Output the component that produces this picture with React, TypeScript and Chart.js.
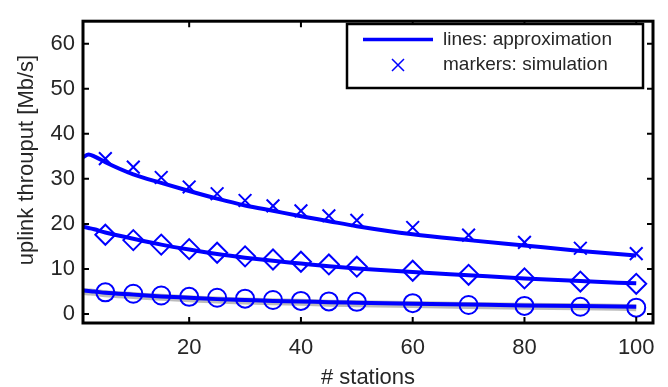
import React, { useEffect, useRef } from "react";
import { Chart, registerables } from "chart.js";

Chart.register(...registerables);

// ---- data ----
const approxStations = [1, 2, 3, 5, 10, 15, 20, 25, 30, 35, 40, 45, 50, 60, 70, 80, 90, 100];
const approxHigh = [34.8, 35.4, 35.0, 33.7, 31.0, 29.1, 27.3, 25.6, 24.1, 22.9, 21.7, 20.6, 19.5, 17.7, 16.4, 15.2, 14.0, 13.0];
const approxMid = [19.4, 19.1, 18.8, 18.1, 16.7, 15.4, 14.3, 13.3, 12.5, 11.8, 11.2, 10.6, 10.1, 9.3, 8.6, 7.9, 7.3, 6.8];
const approxLow = [5.2, 5.1, 5.0, 4.7, 4.3, 3.9, 3.6, 3.3, 3.1, 2.9, 2.8, 2.6, 2.5, 2.3, 2.1, 1.9, 1.8, 1.6];
const approxLowBand = [5.0, 4.9, 4.8, 4.5, 4.1, 3.7, 3.4, 3.1, 2.9, 2.7, 2.6, 2.4, 2.3, 2.1, 1.9, 1.7, 1.6, 1.4];

const simStations = [5, 10, 15, 20, 25, 30, 35, 40, 45, 50, 60, 70, 80, 90, 100];
const simHigh = [34.5, 32.6, 30.3, 28.2, 26.7, 25.2, 24.0, 22.9, 21.8, 20.8, 19.2, 17.5, 15.9, 14.6, 13.4];
const simMid = [17.6, 16.4, 15.4, 14.4, 13.6, 12.8, 12.1, 11.6, 11.0, 10.5, 9.6, 8.7, 7.9, 7.2, 6.7];
const simLow = [4.8, 4.5, 4.1, 3.8, 3.6, 3.4, 3.1, 2.9, 2.8, 2.7, 2.4, 2.0, 1.8, 1.6, 1.4];

const xTicks = [20, 40, 60, 80, 100];
const yTicks = [0, 10, 20, 30, 40, 50, 60];

const xTitle = "# stations";
const yTitle = "uplink throuput [Mb/s]";
const legendLine = "lines: approximation";
const legendMarker = "markers: simulation";

const FONT = '"Liberation Sans", Arial, Helvetica, sans-serif';
const TEXT = "#262626";
const BLUE = "#0000ff";

const pts = (xs: number[], ys: number[]) => xs.map((x, i) => ({ x, y: ys[i] }));

const framePlugin = {
  id: "frameAndDecor",
  afterDraw(chart: any) {
    const { ctx, chartArea: a, scales } = chart;
    const xs = scales.x;
    const ys = scales.y;
    ctx.save();
    // frame
    ctx.strokeStyle = "#000";
    ctx.lineWidth = 3;
    ctx.strokeRect(a.left, a.top, a.right - a.left, a.bottom - a.top);
    // inward ticks
    ctx.lineWidth = 2;
    const tl = 6;
    ctx.beginPath();
    xTicks.forEach((v) => {
      const px = xs.getPixelForValue(v);
      ctx.moveTo(px, a.bottom);
      ctx.lineTo(px, a.bottom - tl);
      ctx.moveTo(px, a.top);
      ctx.lineTo(px, a.top + tl);
    });
    yTicks.forEach((v) => {
      const py = ys.getPixelForValue(v);
      ctx.moveTo(a.left, py);
      ctx.lineTo(a.left + tl, py);
      ctx.moveTo(a.right, py);
      ctx.lineTo(a.right - tl, py);
    });
    ctx.stroke();

    // axis titles
    ctx.fillStyle = TEXT;
    ctx.font = `22px ${FONT}`;
    ctx.textAlign = "center";
    ctx.textBaseline = "middle";
    ctx.fillText(xTitle, (a.left + a.right) / 2, 378);
    ctx.save();
    ctx.translate(27, 160);
    ctx.rotate(-Math.PI / 2);
    ctx.fillText(yTitle, 0, 0);
    ctx.restore();

    // legend
    const lx = 347, ly = 24, lw = 296, lh = 64;
    ctx.fillStyle = "#fff";
    ctx.fillRect(lx, ly, lw, lh);
    ctx.strokeStyle = "#000";
    ctx.lineWidth = 2.5;
    ctx.strokeRect(lx, ly, lw, lh);
    ctx.strokeStyle = BLUE;
    ctx.lineWidth = 3.5;
    ctx.beginPath();
    ctx.moveTo(363, 39.5);
    ctx.lineTo(433, 39.5);
    ctx.stroke();
    ctx.lineWidth = 1.5;
    ctx.beginPath();
    ctx.moveTo(392, 59);
    ctx.lineTo(404, 71);
    ctx.moveTo(404, 59);
    ctx.lineTo(392, 71);
    ctx.stroke();
    ctx.fillStyle = TEXT;
    ctx.font = `19px ${FONT}`;
    ctx.textAlign = "left";
    ctx.textBaseline = "middle";
    ctx.fillText(legendLine, 443, 40);
    ctx.fillText(legendMarker, 443, 65);
    ctx.restore();
  },
};

export default function App() {
  const ref = useRef<HTMLCanvasElement>(null);
  useEffect(() => {
    if (!ref.current) return;
    const lineDs = (data: number[], extra: any = {}) => ({
      type: "scatter" as const,
      data: pts(approxStations, data),
      showLine: true,
      borderColor: BLUE,
      borderWidth: 4,
      pointRadius: 0,
      cubicInterpolationMode: "monotone",
      ...extra,
    });
    const markDs = (data: number[], style: string, r: number) => ({
      type: "scatter" as const,
      data: pts(simStations, data),
      showLine: false,
      pointStyle: style,
      pointRadius: r,
      pointBorderWidth: 2,
      pointBorderColor: BLUE,
      pointBackgroundColor: "rgba(0,0,0,0)",
      borderColor: BLUE,
    });
    const chart = new Chart(ref.current, {
      type: "scatter",
      data: {
        datasets: [
          lineDs(approxHigh),
          lineDs(approxMid),
          lineDs(approxLow),
          markDs(simHigh, "crossRot", 9),
          markDs(simMid, "rectRot", 10),
          markDs(simLow, "circle", 9),
          lineDs(approxLowBand, { borderColor: "rgba(170,170,170,0.8)", borderWidth: 7 }),
        ] as any,
      },
      options: {
        responsive: false,
        animation: false,
        layout: { padding: { left: 0, top: 12, right: 15, bottom: 0 } },
        plugins: { legend: { display: false }, tooltip: { enabled: false } },
        scales: {
          x: {
            type: "linear",
            min: 1,
            max: 103,
            border: { display: false },
            grid: { display: false, drawTicks: false },
            ticks: {
              font: { family: FONT, size: 22 },
              color: TEXT,
              padding: 12,
              maxRotation: 0,
              autoSkip: false,
            },
            afterBuildTicks: (s: any) => {
              s.ticks = xTicks.map((v) => ({ value: v }));
            },
            afterFit: (s: any) => {
              s.height = 64;
            },
          },
          y: {
            type: "linear",
            min: -2,
            max: 65,
            border: { display: false },
            grid: { display: false, drawTicks: false },
            ticks: {
              font: { family: FONT, size: 22 },
              color: TEXT,
              padding: 8,
              autoSkip: false,
            },
            afterBuildTicks: (s: any) => {
              s.ticks = yTicks.map((v) => ({ value: v }));
            },
            afterFit: (s: any) => {
              s.width = 83;
            },
          },
        },
      } as any,
      plugins: [framePlugin],
    });
    return () => chart.destroy();
  }, []);
  return (
    <div style={{ position: "fixed", left: 0, top: 0, width: 668, height: 387, background: "#fff" }}>
      <canvas ref={ref} width={668} height={387} style={{ width: 668, height: 387, display: "block" }} />
    </div>
  );
}
